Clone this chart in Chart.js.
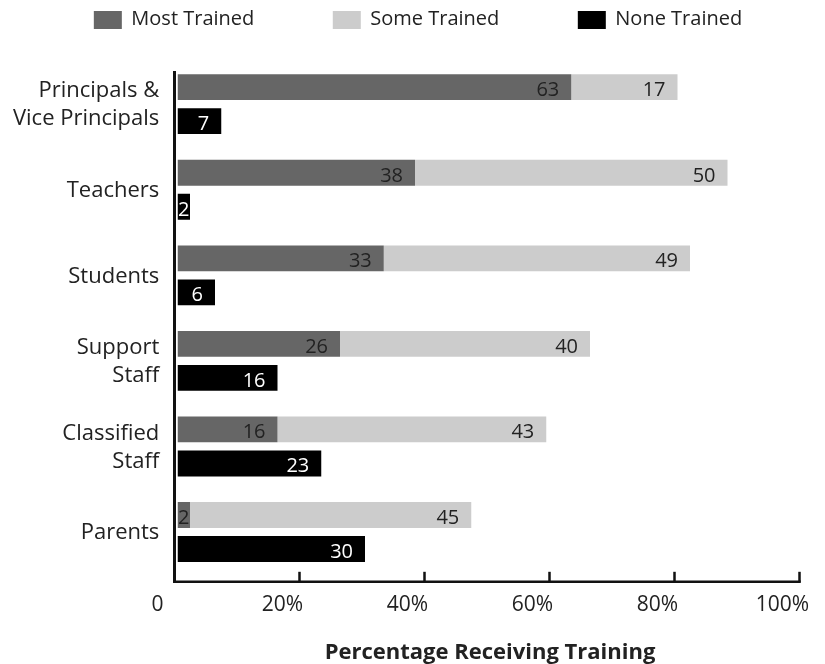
<!DOCTYPE html>
<html>
<head>
<meta charset="utf-8">
<script src="https://cdn.jsdelivr.net/npm/chart.js@4"></script>
<style>
  html, body { margin: 0; padding: 0; background: #ffffff; }
  canvas { display: block; }
</style>
</head>
<body>
<canvas id="c" width="825" height="664"></canvas>
<script>
// ---- data ----
const categories = [
  ["Principals &", "Vice Principals"],
  ["Teachers"],
  ["Students"],
  ["Support", "Staff"],
  ["Classified", "Staff"],
  ["Parents"]
];
const seriesNames = ["Most Trained", "Some Trained", "None Trained"];
const mostTrained = [63, 38, 33, 26, 16, 2];
const someTrained = [17, 50, 49, 40, 43, 45];
const noneTrained = [7, 2, 6, 16, 23, 30];
const xTickLabels = ["0", "20%", "40%", "60%", "80%", "100%"];
const xTitle = "Percentage Receiving Training";

// ---- styling ----
Chart.defaults.font.family = "'Open Sans', sans-serif";
Chart.defaults.color = '#222222';

// legend drawn from the chart's datasets, laid out as in the original
const topLegend = {
  id: 'topLegend',
  afterDraw(chart) {
    const ctx = chart.ctx;
    const items = chart.data.datasets;
    const boxW = 28, boxH = 18, gapText = 9.5, gapItem = 78.5, cy = 20, centerX = 418;
    ctx.save();
    ctx.font = "20px 'Open Sans', sans-serif";
    ctx.textAlign = 'left';
    ctx.textBaseline = 'middle';
    const widths = items.map(d => boxW + gapText + ctx.measureText(d.label).width);
    const total = widths.reduce((s, w) => s + w, 0) + gapItem * (items.length - 1);
    let x = centerX - total / 2;
    items.forEach((d, i) => {
      ctx.fillStyle = d.backgroundColor;
      ctx.fillRect(x, cy - boxH / 2, boxW, boxH);
      ctx.fillStyle = '#222222';
      ctx.fillText(d.label, x + boxW + gapText, cy - 1);
      x += widths[i] + gapItem;
    });
    ctx.restore();
  }
};

const valueLabels = {
  id: 'valueLabels',
  afterDatasetsDraw(chart) {
    const ctx = chart.ctx;
    ctx.save();
    ctx.font = "20px 'Open Sans', sans-serif";
    ctx.textAlign = 'right';
    ctx.textBaseline = 'alphabetic';
    chart.data.datasets.forEach((ds, di) => {
      const meta = chart.getDatasetMeta(di);
      meta.data.forEach((bar, i) => {
        const txt = String(ds.data[i]);
        const w = ctx.measureText(txt).width;
        const left = Math.min(bar.x, bar.base);
        let x = bar.x - 12;
        if (x - w < left + 0.5) x = left + 0.5 + w;
        ctx.fillStyle = ds.labelColor;
        ctx.fillText(txt, x, bar.y + 8.8);
      });
    });
    ctx.restore();
  }
};

const axisLines = {
  id: 'axisLines',
  afterDraw(chart) {
    const { ctx, chartArea: a } = chart;
    const xs = chart.scales.x;
    const shift = 3;
    const x0 = xs.getPixelForValue(0) - shift;
    const yb = a.bottom + 7;
    ctx.save();
    ctx.strokeStyle = '#111111';
    ctx.lineWidth = 3;
    ctx.beginPath();
    ctx.moveTo(x0, a.top + 9.6);
    ctx.lineTo(x0, yb + 1.3);
    ctx.stroke();
    ctx.lineWidth = 2.6;
    ctx.beginPath();
    ctx.moveTo(x0 - 1.5, yb);
    ctx.lineTo(xs.getPixelForValue(xs.max) - shift + 1.3, yb);
    ctx.stroke();
    ctx.lineWidth = 2.5;
    xs.ticks.forEach(t => {
      if (t.value === xs.min) return;
      const px = xs.getPixelForValue(t.value) - shift;
      ctx.beginPath();
      ctx.moveTo(px, yb);
      ctx.lineTo(px, yb - 10);
      ctx.stroke();
    });
    ctx.restore();
  }
};

new Chart(document.getElementById('c'), {
  type: 'bar',
  data: {
    labels: categories,
    datasets: [
      { label: seriesNames[0], data: mostTrained, backgroundColor: '#666666', stack: 'a', labelColor: '#222222' },
      { label: seriesNames[1], data: someTrained, backgroundColor: '#cccccc', stack: 'a', labelColor: '#222222' },
      { label: seriesNames[2], data: noneTrained, backgroundColor: '#000000', stack: 'b', labelColor: '#ffffff' }
    ]
  },
  options: {
    indexAxis: 'y',
    responsive: false,
    animation: false,
    datasets: { bar: { categoryPercentage: 0.795, barPercentage: 0.76, borderWidth: 0 } },
    layout: { padding: { left: 0, right: 22.5, top: 61.4, bottom: 0 } },
    plugins: {
      legend: { display: false },
      tooltip: { enabled: false }
    },
    scales: {
      x: {
        type: 'linear',
        position: 'bottom',
        stacked: true,
        min: 0,
        max: 100,
        grid: { display: false, drawTicks: false },
        border: { display: false },
        ticks: {
          stepSize: 20, autoSkip: false, maxRotation: 0,
          labelOffset: -20, padding: 17.6, color: '#222222',
          font: { size: 21 },
          callback: (v, i) => xTickLabels[i]
        },
        title: {
          display: true, text: xTitle, color: '#222222',
          font: { size: 22, weight: 'bold', lineHeight: 1.0 },
          padding: { top: 0, bottom: 0.6 }
        },
        afterFit: s => { s.height = 89.2; s.paddingLeft = 0; s.paddingRight = 0; }
      },
      y: {
        grid: { display: false, drawTicks: false },
        border: { display: false },
        ticks: {
          padding: 18.2, color: '#222222', labelOffset: 1,
          font: { size: 22, lineHeight: 1.27 }
        },
        afterFit: s => { s.width = 177.5; s.paddingTop = 0; s.paddingBottom = 0; }
      }
    }
  },
  plugins: [axisLines, valueLabels, topLegend]
});
</script>
</body>
</html>
